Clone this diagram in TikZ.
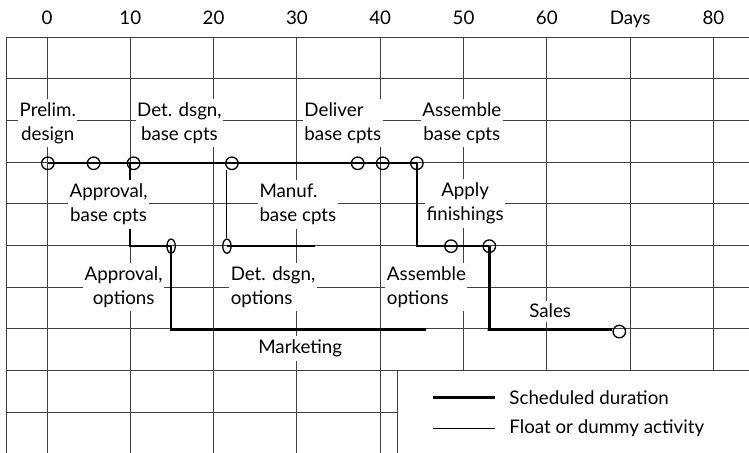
\documentclass[tikz,border=0pt]{standalone}
\usepackage{fontspec}
\setmainfont{Lato}
\usepackage{tikz}
\usetikzlibrary{shapes.geometric}

\begin{document}
\begin{tikzpicture}[
    x=0.2cm, y=-1cm,
    gridline/.style={black!75, line width=0.6pt},
    sched/.style={line width=1.6pt},
    dummy/.style={line width=0.7pt},
    event/.style={circle, draw, line width=0.9pt, minimum size=0.3cm, inner sep=0pt},
    oval/.style={ellipse, draw, line width=0.9pt, minimum width=0.2cm, minimum height=0.34cm, inner sep=0pt},
    lbl/.style={fill=white, align=center, inner xsep=1pt, inner ysep=2.5pt, font=\fontsize{12.8}{16.4}\selectfont},
    lbll/.style={lbl, align=left, anchor=west},
    daylbl/.style={anchor=base, font=\fontsize{12.8}{14}\selectfont}
]
    \useasboundingbox (-5.64,-0.89) rectangle (84.27,9.98);

    % time grid
    \foreach \r in {0,...,9}
        \draw[gridline] (-4.92,\r) -- (84.4,\r);
    \foreach \d in {0,10,...,80}
        \draw[gridline] (\d,0) -- (\d,10.1);
    \draw[gridline] (-4.92,0) -- (-4.92,10.1);

    \foreach \d/\t in {0/0,10/10,20/20,30/30,40/40,50/50,60/60,70/Days,80/80}
        \node[daylbl] (day\d) at (\d,-0.31) {\t};

    % events
    \node[event] (e0) at (0.1,3.03) {};
    \node[event] (e1) at (5.6,3.03) {};
    \node[event] (e2) at (10.4,3.03) {};
    \node[event] (e3) at (22.2,3.03) {};
    \node[event] (e4) at (37.3,3.03) {};
    \node[event] (e5) at (40.3,3.03) {};
    \node[event] (e6) at (44.4,3.03) {};
    \node[oval] (o1) at (14.9,5.02) {};
    \node[oval] (o2) at (21.6,5.02) {};
    \node[event] (e7) at (48.5,5.02) {};
    \node[event] (e8) at (53.1,5.02) {};
    \node[event] (e9) at (68.7,7.07) {};

    \coordinate (k1) at (10,5.02);
    \coordinate (k2) at (45.5,7.02);
    \coordinate (k3) at (32.2,5.02);
    \coordinate (k4) at (52.9,7.02);

    % activities
    \draw[sched] (e0.center) -- (e1.center) -- (e2.center) -- (e3.center) -- (e4.center) -- (e5.center) -- (e6.center);
    \draw[sched] (k1 |- e2.center) -- (k1) -- (o1.center);
    \draw[sched] (o1.center) -- (o1.center |- k2) -- (k2);
    \draw[dummy] (o2 |- e3.south) -- (o2.north);
    \draw[sched] (o2.center) -- (k3);
    \draw[sched] (e6.center) -- (e6.center |- e7) -- (e7.center) -- (e8.center);
    \draw[sched] (e8.center) -- (e8.center |- k4) -- (k4) -- (k4 -| e9.west);

    \node[lbl] (prelim) at (0.1,2.06) {Prelim.\\design};
    \node[lbl] (detbase) at (15.9,2.06) {Det. dsgn,\\base cpts};
    \node[lbll] (deliver) at (30.7,2.06) {Deliver\\base cpts};
    \node[lbl] (asmbase) at (49.8,2.06) {Assemble\\base cpts};
    \node[lbl] (apprbase) at (7.4,4.02) {Approval,\\base cpts};
    \node[lbll] (manuf) at (25.3,4.02) {Manuf.\\base cpts};
    \node[lbl] (apply) at (50.2,4.0) {Apply\\finishings};
    \node[lbl] (appropt) at (9.2,6.0) {Approval,\\options};
    \node[lbll] (detopt) at (21.85,6.0) {Det. dsgn,\\options};
    \node[lbll] (asmopt) at (40.6,6.0) {Assemble\\options};
    \node[lbl] (market) at (30.4,7.48) {Marketing};
    \node[lbl] (sales) at (60.4,6.58) {Sales};

    % key
    \draw[gridline, fill=white] (42.1,8) rectangle (85,10.5);
    \coordinate (s1) at (46.3,8.65);
    \coordinate (s2) at (53.8,8.65);
    \coordinate (f1) at (46.3,9.4);
    \coordinate (f2) at (53.8,9.4);
    \draw[sched] (s1) -- (s2);
    \draw[dummy] (f1) -- (f2);
    \node[lbll, fill=none] (tsched) at (55.3,8.65) {Scheduled duration};
    \node[lbll, fill=none] (tfloat) at (55.3,9.4) {Float or dummy activity};

\end{tikzpicture}
\end{document}
